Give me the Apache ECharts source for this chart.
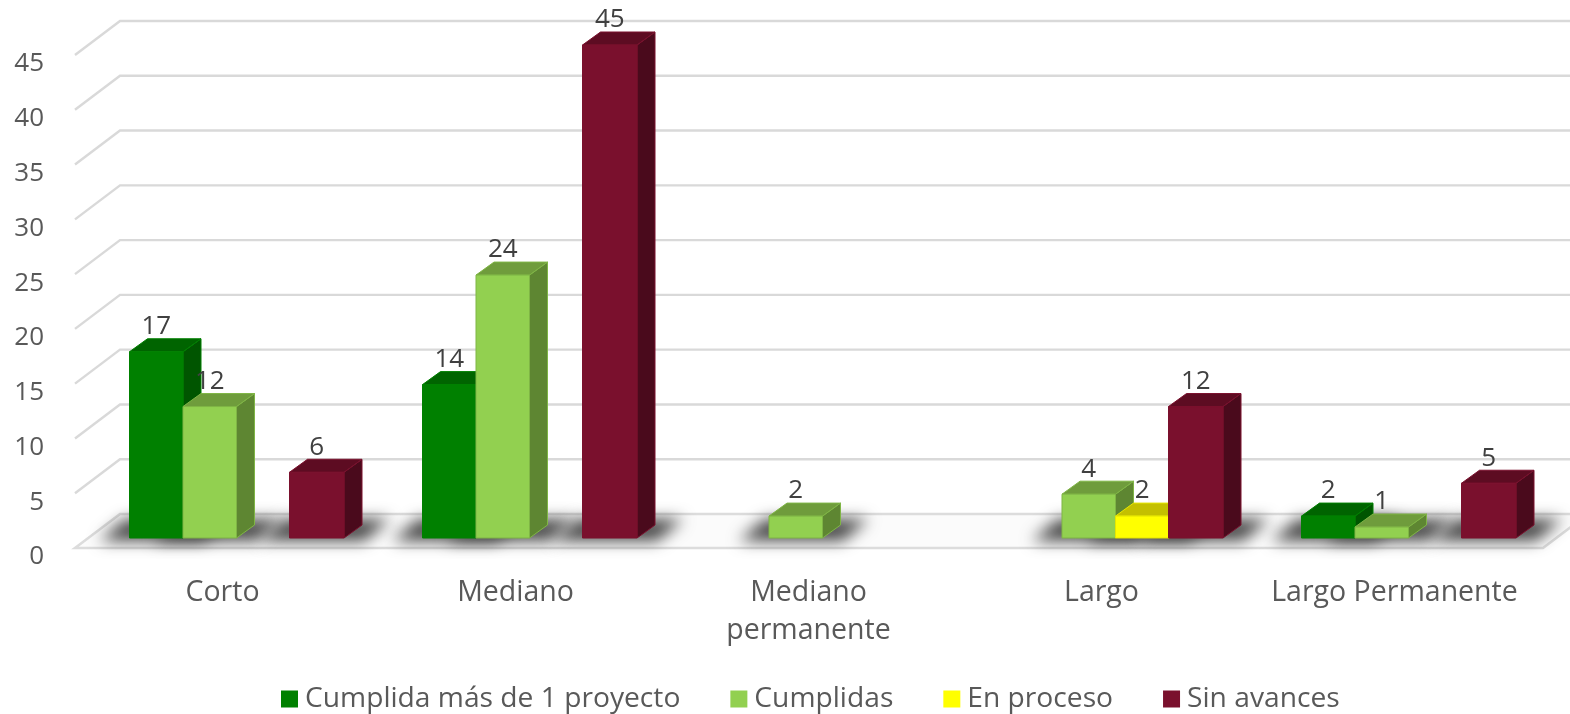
<!DOCTYPE html>
<html>
<head>
<meta charset="utf-8">
<style>
  html, body { margin: 0; padding: 0; background: #fff; }
  #chart { width: 1570px; height: 714px; }
</style>
<script src="https://cdn.jsdelivr.net/npm/echarts@6/dist/echarts.min.js"></script>
</head>
<body>
<div id="chart"></div>
<script>
const categories = ["Corto", "Mediano", "Mediano\npermanente", "Largo", "Largo Permanente"];
const yTicks = [0, 5, 10, 15, 20, 25, 30, 35, 40, 45];

const cumplidaMas = [17, 14, null, null, 2];
const cumplidas = [12, 24, 2, 4, 1];
const enProceso = [null, null, null, 2, null];
const sinAvances = [6, 45, null, 12, 5];

const seriesNames = ["Cumplida más de 1 proyecto", "Cumplidas", "En proceso", "Sin avances"];
const seriesValues = [cumplidaMas, cumplidas, enProceso, sinAvances];
const faceColors = [
  { front: "#008000", top: "#006400", side: "#005500", edge: "#008000" },
  { front: "#92d050", top: "#6f9c3c", side: "#5e8632", edge: "#7fb545" },
  { front: "#ffff00", top: "#c4c000", side: "#a6a300", edge: "#e6e600" },
  { front: "#7a102d", top: "#5d0c22", side: "#4a0a1c", edge: "#7a102d" },
];

const FONT = '"Open Sans", sans-serif';
const WALL_DX = 45, WALL_DY = -34;
const BAR_DX = 18, BAR_DY = -13;
const BAR_W = 53.5, PLANE_UP = 10, SHIFT = 14;
const OFFSCREEN = 3000; // shadow caster sits off canvas, only its blur lands on the floor

function poly(points, style) {
  return { type: "polygon", shape: { points: points }, style: style };
}

// wall lines, one per tick
function renderWall(params, api) {
  const cs = params.coordSys;
  const y = api.coord([0, api.value(0)])[1];
  const x0 = cs.x - 1;
  return {
    type: "polyline",
    shape: { points: [[x0, y], [x0 + WALL_DX, y + WALL_DY], [1570, y + WALL_DY]] },
    style: { stroke: "#d9d9d9", lineWidth: 2.4, fill: null },
  };
}

function renderFloor(params, api) {
  const cs = params.coordSys;
  const y = api.coord([0, 0])[1];
  const x0 = cs.x - 1, x1 = cs.x + cs.width + 2;
  return poly(
    [[x0, y], [x0 + WALL_DX, y + WALL_DY], [x1 + WALL_DX, y + WALL_DY], [x1, y]],
    { fill: "#fbfbfb", stroke: "#dcdcdc", lineWidth: 2.6 }
  );
}

function barX(api, catIndex, slot) {
  return api.coord([catIndex, 0])[0] + SHIFT + (slot - 2) * BAR_W - (slot === 3 ? 0.5 : 0);
}

function barWidth(slot) {
  return slot === 3 ? BAR_W + 1 : BAR_W;
}

function renderShadow(params, api) {
  const v = api.value(1);
  if (v == null || isNaN(v)) return null;
  const slot = api.value(2);
  const x = barX(api, api.value(0), slot);
  const w = barWidth(slot);
  const yb = api.coord([0, 0])[1] - PLANE_UP;
  const el = poly(
    [[x - 30, yb + 3], [x - 4, yb - 19], [x + w + 46, yb - 19], [x + w + 20, yb + 3]],
    { fill: "#000", shadowBlur: 15, shadowColor: "#484848", shadowOffsetX: OFFSCREEN }
  );
  el.x = -OFFSCREEN;
  return el;
}

function makeBarRender(slot) {
  const c = faceColors[slot];
  return function (params, api) {
    const v = api.value(1);
    if (v == null || isNaN(v)) return null;
    const x = barX(api, api.value(0), slot);
    const yb = api.coord([0, 0])[1] - PLANE_UP;
    const yt = api.coord([0, v])[1] - PLANE_UP;
    const w = barWidth(slot);
    return {
      type: "group",
      children: [
        poly([[x + w, yt], [x + w + BAR_DX, yt + BAR_DY], [x + w + BAR_DX, yb + BAR_DY], [x + w, yb]],
          { fill: c.side, stroke: c.edge, lineWidth: 1 }),
        poly([[x, yt], [x + BAR_DX, yt + BAR_DY], [x + w + BAR_DX, yt + BAR_DY], [x + w, yt]],
          { fill: c.top, stroke: c.edge, lineWidth: 1 }),
        { type: "rect", shape: { x: x, y: yt, width: w, height: yb - yt },
          style: { fill: c.front, stroke: c.edge, lineWidth: 1 } },
      ],
    };
  };
}

function renderValue(params, api) {
  const v = api.value(1);
  if (v == null || isNaN(v)) return null;
  const slot = api.value(2);
  const x = barX(api, api.value(0), slot) + barWidth(slot) / 2;
  const yt = api.coord([0, v])[1] - PLANE_UP;
  return {
    type: "text",
    style: {
      x: x, y: yt - 25, text: String(v), align: "center", verticalAlign: "middle",
      fill: "#404040", font: "26px " + FONT,
    },
  };
}

const barRows = [];
seriesValues.forEach((vals, slot) => {
  vals.forEach((v, i) => { if (v != null) barRows.push([i, v, slot]); });
});

const barSeries = seriesNames.map((name, slot) => ({
  name: name,
  type: "custom",
  coordinateSystem: "cartesian2d",
  renderItem: makeBarRender(slot),
  itemStyle: { color: faceColors[slot].front },
  encode: { x: 0, y: 1 },
  data: seriesValues[slot].map((v, i) => [i, v]),
  z: 5 + slot,
  silent: true,
}));

const option = {
  animation: false,
  backgroundColor: "#fff",
  grid: { left: 76, width: 1465, top: 55, height: 493, containLabel: false },
  legend: {
    data: seriesNames,
    left: 276,
    top: 680,
    icon: "rect",
    itemWidth: 17,
    itemHeight: 17,
    itemGap: 50,
    textStyle: { fontFamily: FONT, fontSize: 28.2, color: "#595959", padding: [0, 0, 0, 2] },
  },
  xAxis: {
    type: "category",
    data: categories,
    axisLine: { show: false },
    axisTick: { show: false },
    splitLine: { show: false },
    axisLabel: { interval: 0, margin: 26, fontFamily: FONT, fontSize: 28.5, color: "#595959", lineHeight: 38 },
  },
  yAxis: {
    type: "value",
    min: 0,
    max: 45,
    interval: 5,
    axisLine: { show: false },
    axisTick: { show: false },
    splitLine: { show: false },
    axisLabel: { margin: 32, fontFamily: FONT, fontSize: 26, color: "#595959", verticalAlign: "top", lineHeight: 18 },
  },
  series: [
    { type: "custom", renderItem: renderWall, data: yTicks.filter((t) => t > 0).map((t) => [t]), encode: { y: 0 }, z: 1, silent: true },
    { type: "custom", renderItem: renderFloor, data: [[0, 0]], z: 2, silent: true },
    { type: "custom", renderItem: renderShadow, data: barRows, encode: { x: 0, y: 1 }, z: 3, silent: true },
    ...barSeries,
    { type: "custom", renderItem: renderValue, data: barRows, encode: { x: 0, y: 1 }, z: 20, silent: true },
  ],
};

const chart = echarts.init(document.getElementById("chart"));
chart.setOption(option);
</script>
</body>
</html>
